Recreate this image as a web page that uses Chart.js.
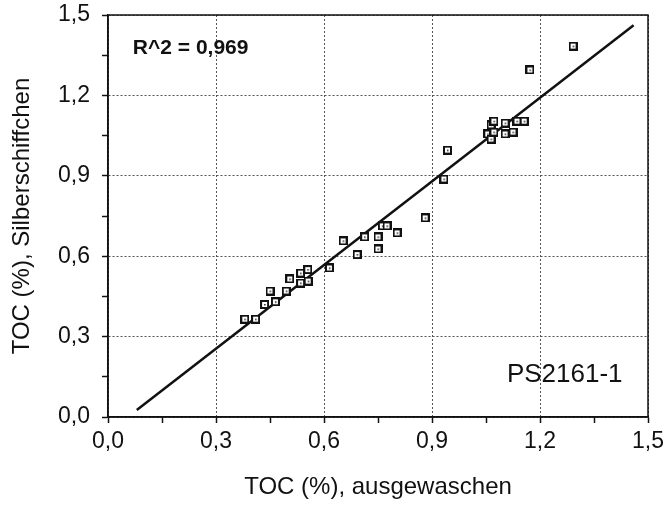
<!DOCTYPE html>
<html>
<head>
<meta charset="utf-8">
<title>TOC Silberschiffchen vs ausgewaschen</title>
<script src="https://cdn.jsdelivr.net/npm/chart.js@4.4.0/dist/chart.umd.min.js"></script>
<style>
  body { margin: 0; background: #fff; }
  #wrap { width: 666px; height: 508px; }
</style>
</head>
<body>
<div id="wrap"><canvas id="tocChart" width="666" height="508"></canvas></div>
<script>
// TOC (%) values, washed samples (x) vs. silver boats (y)
const tocWashed = [0.38, 0.41, 0.435, 0.45, 0.465, 0.495, 0.505, 0.535, 0.535, 0.555, 0.556, 0.615,
                   0.653, 0.692, 0.713, 0.75, 0.75, 0.762, 0.775, 0.803, 0.881, 0.933, 0.943,
                   1.055, 1.064, 1.064, 1.072, 1.072, 1.103, 1.103, 1.125, 1.136, 1.156, 1.172, 1.292];
const tocBoat = [0.365, 0.365, 0.42, 0.47, 0.43, 0.47, 0.515, 0.50, 0.537, 0.55, 0.507, 0.556,
                 0.657, 0.606, 0.672, 0.672, 0.627, 0.713, 0.713, 0.687, 0.743, 0.888, 0.996,
                 1.056, 1.09, 1.037, 1.104, 1.063, 1.097, 1.056, 1.063, 1.104, 1.104, 1.295, 1.384];

// regression line
const fitSlope = 1.04;
const fitIntercept = -0.057;
const fitRange = [0.08, 1.46];

const tickLabels = ['0,0', '0,3', '0,6', '0,9', '1,2', '1,5'];
const r2Label = 'R^2 = 0,969';
const coreLabel = 'PS2161-1';

const fontFamily = '"Liberation Sans", Arial, Helvetica, sans-serif';

// little square marker with a dot in the middle
function makeMarker() {
    const c = document.createElement('canvas');
    c.width = 9; c.height = 9;
    const g = c.getContext('2d');
    g.fillStyle = '#111';
    g.fillRect(0, 0, 9, 9);
    g.fillStyle = '#fff';
    g.fillRect(2, 2, 5, 5);
    g.fillStyle = '#222';
    g.fillRect(4, 4, 1.5, 1.5);
    return c;
}

const points = tocWashed.map((x, i) => ({ x: x, y: tocBoat[i] }));
const fitLine = fitRange.map(x => ({ x: x, y: fitSlope * x + fitIntercept }));

// frame around the plot and the two text labels
const framePlugin = {
    id: 'frame',
    afterDraw(chart) {
        const { ctx, chartArea: a, scales } = chart;
        ctx.save();
        ctx.strokeStyle = '#111';
        ctx.lineWidth = 1.5;
        ctx.strokeRect(a.left, a.top, a.right - a.left, a.bottom - a.top);

        ctx.fillStyle = '#111';
        ctx.textBaseline = 'middle';
        ctx.textAlign = 'left';
        ctx.font = 'bold 21px ' + fontFamily;
        ctx.fillText(r2Label, scales.x.getPixelForValue(0.069), scales.y.getPixelForValue(1.377));
        ctx.font = '26px ' + fontFamily;
        ctx.fillText(coreLabel, scales.x.getPixelForValue(1.108), scales.y.getPixelForValue(0.157));
        ctx.restore();
    }
};

function axisOptions(title, isX) {
    return {
        type: 'linear',
        min: 0,
        max: 1.5,
        afterBuildTicks: (scale) => {
            scale.ticks = [];
            for (let k = 0; k <= 10; k++) scale.ticks.push({ value: k * 0.15 });
        },
        afterFit: (scale) => {
            if (isX) {
                scale.height = 91;
                scale.paddingLeft = 0;
                scale.paddingRight = 0;
            } else {
                scale.width = 108;
                scale.paddingTop = 0;
                scale.paddingBottom = 0;
            }
        },
        grid: {
            color: (ctx) => ctx.index % 2 === 0 ? '#555' : 'rgba(0,0,0,0)',
            lineWidth: 1,
            tickColor: '#111',
            tickLength: 6,
            tickWidth: 1.5
        },
        border: { display: true, color: '#111', width: 1.5, dash: [2, 2] },
        ticks: {
            autoSkip: false,
            maxRotation: 0,
            padding: isX ? 5 : 12,
            color: '#111',
            font: { family: fontFamily, size: 23 },
            callback: (value, index) => index % 2 === 0 ? tickLabels[index / 2] : ''
        },
        title: {
            display: true,
            text: title,
            color: '#111',
            font: { family: fontFamily, size: 24 },
            padding: { top: 8, bottom: 6 }
        }
    };
}

new Chart(document.getElementById('tocChart'), {
    type: 'scatter',
    data: {
        datasets: [
            {
                label: 'Proben',
                data: points,
                pointStyle: makeMarker(),
                pointRadius: 4
            },
            {
                label: 'Regression',
                data: fitLine,
                showLine: true,
                borderColor: '#111',
                borderWidth: 2.5,
                pointRadius: 0,
                fill: false
            }
        ]
    },
    options: {
        responsive: false,
        animation: false,
        layout: { padding: { top: 15, right: 18, left: 0, bottom: 0 } },
        plugins: {
            legend: { display: false },
            tooltip: { enabled: false }
        },
        scales: {
            x: axisOptions('TOC (%), ausgewaschen', true),
            y: axisOptions('TOC (%), Silberschiffchen', false)
        }
    },
    plugins: [framePlugin]
});
</script>
</body>
</html>
